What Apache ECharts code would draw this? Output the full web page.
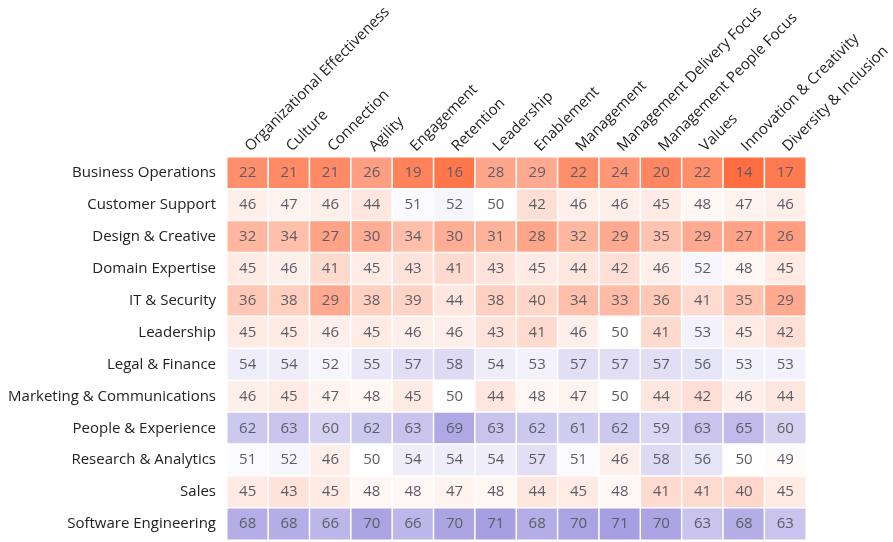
<!DOCTYPE html>
<html>
<head>
<meta charset="utf-8">
<script src="https://cdn.jsdelivr.net/npm/echarts@6/dist/echarts.min.js"></script>
<style>html,body{margin:0;padding:0;background:#fff}#c{width:893px;height:542px}</style>
</head>
<body>
<div id="c"></div>
<script>
const columns = ["Organizational Effectiveness","Culture","Connection","Agility","Engagement","Retention","Leadership","Enablement","Management","Management Delivery Focus","Management People Focus","Values","Innovation & Creativity","Diversity & Inclusion"];
const rows = ["Business Operations","Customer Support","Design & Creative","Domain Expertise","IT & Security","Leadership","Legal & Finance","Marketing & Communications","People & Experience","Research & Analytics","Sales","Software Engineering"];
const businessOperations = [22,21,21,26,19,16,28,29,22,24,20,22,14,17];
const customerSupport = [46,47,46,44,51,52,50,42,46,46,45,48,47,46];
const designCreative = [32,34,27,30,34,30,31,28,32,29,35,29,27,26];
const domainExpertise = [45,46,41,45,43,41,43,45,44,42,46,52,48,45];
const itSecurity = [36,38,29,38,39,44,38,40,34,33,36,41,35,29];
const leadership = [45,45,46,45,46,46,43,41,46,50,41,53,45,42];
const legalFinance = [54,54,52,55,57,58,54,53,57,57,57,56,53,53];
const marketingComms = [46,45,47,48,45,50,44,48,47,50,44,42,46,44];
const peopleExperience = [62,63,60,62,63,69,63,62,61,62,59,63,65,60];
const researchAnalytics = [51,52,46,50,54,54,54,57,51,46,58,56,50,49];
const sales = [45,43,45,48,48,47,48,44,45,48,41,41,40,45];
const softwareEngineering = [68,68,66,70,66,70,71,68,70,71,70,63,68,63];

const matrix = [businessOperations, customerSupport, designCreative, domainExpertise, itSecurity, leadership, legalFinance, marketingComms, peopleExperience, researchAnalytics, sales, softwareEngineering];
const data = [];
matrix.forEach((r, yi) => r.forEach((v, xi) => data.push([xi, yi, v])));

const FONT = "'Open Sans', 'Noto Sans', sans-serif";
const chart = echarts.init(document.getElementById('c'), null, {renderer: 'canvas'});
chart.setOption({
  animation: false,
  textStyle: {fontFamily: FONT},
  grid: {left: 227, right: 84, top: 157, bottom: 2},
  xAxis: {
    type: 'category', data: columns, position: 'top',
    axisLine: {show: false}, axisTick: {show: false}, splitArea: {show: false},
    axisLabel: {rotate: -45, interval: 0, fontSize: 15, color: '#222', fontFamily: FONT, margin: 8}
  },
  yAxis: {
    type: 'category', data: rows, inverse: true,
    axisLine: {show: false}, axisTick: {show: false},
    axisLabel: {fontSize: 15, color: '#222', fontFamily: FONT, margin: 11}
  },
  visualMap: {
    show: false, type: 'continuous', min: 14, max: 86, dimension: 2,
    inRange: {color: ['#ff6e40', '#ffffff', '#6a5acd']}
  },
  series: [{
    type: 'heatmap', data: data,
    label: {show: true, fontSize: 15, color: '#5c5c66', fontFamily: FONT},
    itemStyle: {borderColor: '#fff', borderWidth: 1.5}
  }]
});
</script>
</body>
</html>
